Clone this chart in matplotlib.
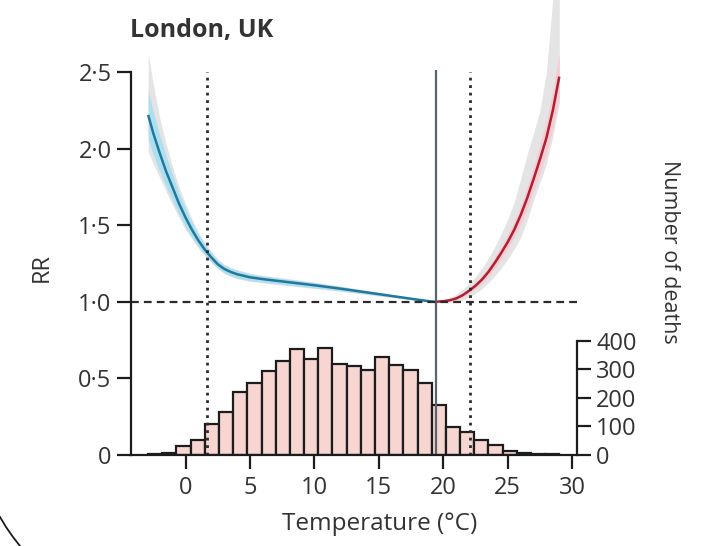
import numpy as np
import matplotlib
matplotlib.use("Agg")
import matplotlib.pyplot as plt
from matplotlib.lines import Line2D

plt.rcParams['font.family'] = ['Open Sans', 'DejaVu Sans']

# exposure-response curve, cold side (blue) and heat side (red)
temp_cold = [-2.9, -2.5, -2, -1.5, -1, -0.5, 0, 0.5, 1, 1.5, 2, 2.5, 3, 3.5, 4,
             5, 6, 7, 8, 9, 10, 11, 12, 13, 14, 15, 16, 17, 18, 19, 19.4]
rr_cold = [2.22, 2.10, 1.97, 1.85, 1.745, 1.64, 1.55, 1.47, 1.40, 1.34, 1.29, 1.245,
           1.215, 1.195, 1.18, 1.16, 1.148, 1.138, 1.128, 1.118, 1.108, 1.097,
           1.086, 1.074, 1.062, 1.050, 1.038, 1.026, 1.014, 1.003, 1.0]
cold_lo = [2.06, 1.96, 1.85, 1.75, 1.66, 1.57, 1.49, 1.42, 1.36, 1.305, 1.26, 1.22,
           1.19, 1.17, 1.155, 1.138, 1.128, 1.118, 1.109, 1.10, 1.091, 1.082,
           1.072, 1.062, 1.052, 1.041, 1.031, 1.021, 1.010, 1.001, 1.0]
cold_hi = [2.38, 2.24, 2.09, 1.95, 1.83, 1.71, 1.61, 1.52, 1.44, 1.375, 1.32, 1.27,
           1.24, 1.22, 1.205, 1.182, 1.168, 1.158, 1.147, 1.136, 1.125, 1.112,
           1.10, 1.086, 1.072, 1.059, 1.045, 1.031, 1.018, 1.005, 1.0]
cold_grey_lo = [1.98, 1.90, 1.81, 1.72, 1.63, 1.55, 1.47, 1.41, 1.35, 1.30, 1.255, 1.215,
                1.185, 1.165, 1.15, 1.134, 1.124, 1.114, 1.105, 1.096, 1.087, 1.078,
                1.068, 1.058, 1.048, 1.038, 1.028, 1.018, 1.008, 1.0, 1.0]
cold_grey_hi = [2.62, 2.42, 2.20, 2.03, 1.88, 1.75, 1.64, 1.54, 1.455, 1.385, 1.33, 1.28,
                1.245, 1.225, 1.21, 1.187, 1.172, 1.162, 1.151, 1.14, 1.129, 1.116,
                1.104, 1.09, 1.076, 1.062, 1.048, 1.034, 1.02, 1.006, 1.0]

temp_hot = [19.4, 20, 20.5, 21, 21.5, 22, 22.5, 23, 23.5, 24, 24.5, 25, 25.5,
            26, 26.5, 27, 27.5, 28, 28.5, 29]
rr_hot = [1.0, 1.004, 1.01, 1.022, 1.043, 1.072, 1.105, 1.145, 1.195, 1.255,
          1.32, 1.39, 1.47, 1.565, 1.675, 1.80, 1.93, 2.07, 2.25, 2.47]
hot_lo = [1.0, 1.0, 1.004, 1.012, 1.03, 1.055, 1.085, 1.12, 1.165, 1.22,
          1.28, 1.345, 1.42, 1.505, 1.605, 1.72, 1.84, 1.97, 2.13, 2.33]
hot_hi = [1.0, 1.008, 1.017, 1.033, 1.057, 1.09, 1.127, 1.172, 1.227, 1.292,
          1.362, 1.437, 1.523, 1.627, 1.747, 1.883, 2.025, 2.18, 2.38, 2.62]
hot_grey_lo = [1.0, 0.998, 0.998, 1.0, 1.012, 1.03, 1.055, 1.085, 1.125, 1.17,
               1.22, 1.28, 1.345, 1.42, 1.53, 1.66, 1.78, 1.90, 2.08, 2.30]
hot_grey_hi = [1.0, 1.012, 1.028, 1.05, 1.082, 1.12, 1.165, 1.22, 1.285, 1.36,
               1.445, 1.54, 1.65, 1.80, 1.96, 2.10, 2.25, 2.50, 2.98, 3.50]

mmt = 19.4
pct_lines = [1.7, 22.1]

# daily deaths histogram
bin_start = -2.9
bin_width = 1.1
deaths = [3, 7, 32, 53, 108, 150, 219, 253, 294, 330, 370, 337, 374, 318, 312,
          296, 342, 316, 296, 252, 174, 97, 82, 52, 35, 15, 8, 4, 2]

rr_ticks = [0, 0.5, 1.0, 1.5, 2.0, 2.5]
rr_labels = ['0', '0·5', '1·0', '1·5', '2·0', '2·5']
death_ticks = [0, 100, 200, 300, 400]
temp_ticks = [0, 5, 10, 15, 20, 25, 30]

fig = plt.figure(figsize=(7.11, 5.46), dpi=100)
ax = fig.add_axes([131 / 711, 91 / 546, (576.7 - 131) / 711, 455 / 546])
ax2 = ax.twinx()
ax.set_zorder(ax2.get_zorder() + 1)
ax.patch.set_visible(False)

x_lo, x_hi = -4.23, 30.35
y_top = 2.97
ax.set_xlim(x_lo, x_hi)
ax.set_ylim(0, y_top)
ax2.set_ylim(0, y_top * 535.7)

edges = bin_start + bin_width * np.arange(len(deaths))
ax2.bar(edges, deaths, width=bin_width, align='edge', facecolor='#f7d6d1',
        edgecolor='#1c1c1c', linewidth=1.6)

ax.fill_between(temp_cold, cold_grey_lo, cold_grey_hi, color='#e4e4e4', lw=0)
ax.fill_between(temp_hot, hot_grey_lo, hot_grey_hi, color='#e4e4e4', lw=0)
ax.fill_between(temp_cold, cold_lo, cold_hi, color='#addff0', lw=0)
ax.fill_between(temp_hot, hot_lo, hot_hi, color='#f6ccd2', lw=0)
ax.plot(temp_cold, rr_cold, color='#21789a', lw=1.8, solid_capstyle='butt')
ax.plot(temp_hot, rr_hot, color='#b01f33', lw=1.8, solid_capstyle='butt')

ax.vlines(pct_lines, 0, 2.5, colors='#2b2b2b', lw=2, linestyles=[(0, (1.0, 1.7))])
ax.vlines(mmt, 0, 2.51, colors='#56646b', lw=1.6)
ax.hlines(1.0, x_lo, x_hi, colors='#2b2b2b', lw=1.6, linestyles=[(0, (3.5, 2.3))])

for s in ['top', 'right']:
    ax.spines[s].set_visible(False)
for s in ['top', 'left', 'bottom']:
    ax2.spines[s].set_visible(False)
ax.spines['left'].set_bounds(0, 2.5)
ax.spines['bottom'].set_bounds(x_lo, x_hi)
ax2.spines['right'].set_bounds(0, 400)
for sp in [ax.spines['left'], ax.spines['bottom'], ax2.spines['right']]:
    sp.set_linewidth(1.6)
    sp.set_color('#1c1c1c')

ax.set_yticks(rr_ticks, labels=rr_labels)
ax.set_xticks(temp_ticks)
ax2.set_yticks(death_ticks)
ax.tick_params(axis='x', length=10, width=1.6, color='#1c1c1c', labelsize=17,
               labelcolor='#333333', pad=5)
ax.tick_params(axis='y', length=10, width=1.6, color='#1c1c1c', labelsize=17,
               labelcolor='#333333', pad=4)
ax2.tick_params(axis='y', length=10, width=1.6, color='#1c1c1c', labelsize=17,
                labelcolor='#333333', pad=4)

fig.text(42 / 711, 1 - 268 / 546, 'RR', rotation=90, ha='center', va='center',
         fontsize=17, color='#333333')
fig.text(380 / 711, 1 - 524 / 546, 'Temperature (°C)', ha='center', va='center',
         fontsize=17.5, color='#333333')
fig.text(670 / 711, 1 - 252 / 546, 'Number of deaths', rotation=-90, ha='center',
         va='center', fontsize=15.5, color='#333333')
fig.text(130 / 711, 1 - 30 / 546, 'London, UK', ha='left', va='center',
         fontsize=18, fontweight='bold', color='#333333')

# page edge visible in the bottom-left corner of the scan
fig.add_artist(Line2D([0, 6 / 711, 13 / 711, 20 / 711],
                      [1 - 517 / 546, 1 - 527 / 546, 1 - 537 / 546, 1 - 546 / 546],
                      color='#1c1c1c', lw=1.3))

fig.savefig('out.png', dpi=100)
